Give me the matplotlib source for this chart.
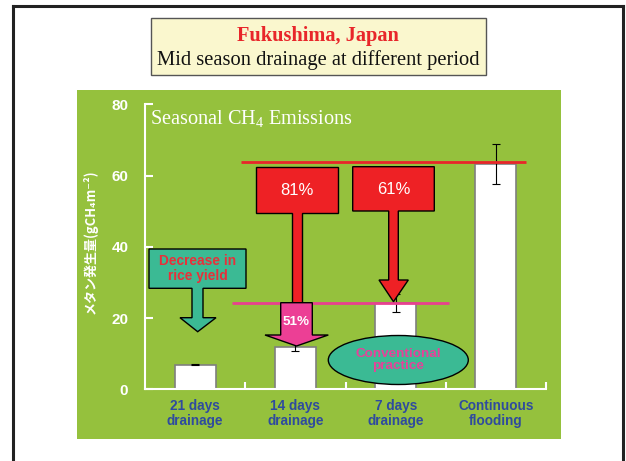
import matplotlib
matplotlib.use("Agg")
import matplotlib.pyplot as plt
from matplotlib.patches import Rectangle, Polygon, Ellipse
from matplotlib.lines import Line2D
from matplotlib.transforms import Affine2D

# ---- data ----
categories = ["21 days\ndrainage", "14 days\ndrainage", "7 days\ndrainage", "Continuous\nflooding"]
emissions = [6.9, 12.0, 24.2, 63.2]
errors = [0.2, 1.3, 2.6, 5.6]
flooding_level = 63.8
conventional_level = 24.3
yticks = [0, 20, 40, 60, 80]
reduction_labels = ["81%", "61%", "51%"]

plt.rcParams['mathtext.fontset'] = 'custom'
plt.rcParams['mathtext.rm'] = 'Liberation Serif'
plt.rcParams['mathtext.it'] = 'Liberation Serif:italic'

W, H = 626, 461
fig = plt.figure(figsize=(W / 100, H / 100), dpi=100, facecolor='white')
T = Affine2D().scale(1 / W, -1 / H).translate(0, 1) + fig.transFigure

GREEN = '#95C13D'
TEAL = '#3BBA94'
RED = '#EE2125'
PINK = '#EC3F95'
BLUE = '#2F4B9E'

# slide frame (left, top, right) and green panel
for xs, ys in [([13.3, 13.3], [460.5, 6]), ([13.3, 623.3], [6, 6]), ([623.3, 623.3], [6, 460.5])]:
    fig.add_artist(Line2D(xs, ys, transform=T, color='#222222', lw=2.2,
                          solid_capstyle='projecting', zorder=0))
fig.add_artist(Rectangle((77.3, 90), 483.7, 348.7, transform=T,
                         facecolor=GREEN, edgecolor='none', zorder=-1))

# title box
fig.add_artist(Rectangle((151, 18.3), 334.7, 56.7, transform=T,
                         facecolor='#FAF7CE', edgecolor='#555555', lw=1.0, zorder=1))
fig.text(318.4, 35.5, "Fukushima, Japan", transform=T, ha='center', va='center',
         family='Liberation Serif', fontweight='bold', fontsize=14.7, color='#E8262A')
fig.text(318.4, 60, "Mid season drainage at different period", transform=T,
         ha='center', va='center', family='Liberation Serif', fontsize=14.8, color='#111111')

# axes
ax = fig.add_axes([145 / W, (H - 389.3) / H, 401 / W, 284.8 / H])
ax.set_facecolor('none')
x = list(range(len(categories)))
ax.bar(x, emissions, width=0.41, color='white', edgecolor='#7f7f7f', lw=1.2, zorder=2)
ax.errorbar(x, emissions, yerr=errors, fmt='none', ecolor='black',
            elinewidth=0.8, capsize=3, capthick=0.8, zorder=3)
ax.set_xlim(-0.5, 3.5)
ax.set_ylim(0, 80)
for s in ['top', 'right']:
    ax.spines[s].set_visible(False)
for s in ['left', 'bottom']:
    ax.spines[s].set_color('white')
    ax.spines[s].set_linewidth(1.5)
ax.set_yticks(yticks)
ax.set_yticklabels([str(v) for v in yticks], color='white', fontweight='bold',
                   family='Liberation Sans', fontsize=11)
ax.tick_params(axis='y', direction='in', length=5.5, width=1.5, color='white', pad=12)
ax.set_xticks([i + 0.5 for i in x])
ax.set_xticklabels([])
ax.tick_params(axis='x', which='major', direction='in', length=5, width=1.5, color='white')
ax.set_xticks(x, labels=categories, minor=True)
ax.tick_params(axis='x', which='minor', length=0, pad=7)
for lab in ax.get_xticklabels(minor=True):
    lab.set_color(BLUE)
    lab.set_fontweight('bold')
    lab.set_family('Liberation Sans')
    lab.set_fontsize(9.8)
    lab.set_linespacing(1.05)

# reference levels
ax.hlines(flooding_level, 0.459, 3.30, color='#E8262A', lw=2, zorder=4)
ax.hlines(conventional_level, 0.366, 2.534, color='#E8418F', lw=2, zorder=4)

ax.text(150, 118, r"Seasonal CH$_4$ Emissions", transform=T, ha='left', va='center',
        family='Liberation Serif', fontsize=14.6, color='white')

fig.text(90, 242, "メタン発生量(gCH₄m⁻²)", transform=T, rotation=90, ha='center',
         va='center', color='white', fontweight='bold', fontsize=9.4,
         family=['Noto Sans CJK JP', 'DejaVu Sans'])

def poly(pts, fc, z=5):
    ax.add_patch(Polygon(pts, closed=True, transform=T, clip_on=False,
                         facecolor=fc, edgecolor='black', lw=1, zorder=z))

# green callout
poly([(149, 249), (246, 249), (246, 288.3), (203, 288.3), (203, 317.7), (216, 317.7),
      (197.7, 331.7), (180, 317.7), (192, 317.7), (192, 288.3), (149, 288.3)], TEAL)
ax.text(197.5, 268.7, "Decrease in\nrice yield", transform=T, ha='center', va='center',
        color='#E8303A', fontweight='bold', family='Liberation Sans', fontsize=9.9,
        linespacing=1.1, zorder=6)

# red 81% callout
poly([(256, 167.3), (337.7, 167.3), (337.7, 213.3), (301.7, 213.3), (301.7, 302.7),
      (292.3, 302.7), (292.3, 213.3), (256, 213.3)], RED)
ax.text(297, 190, reduction_labels[0], transform=T, ha='center', va='center',
        color='white', family='Liberation Sans', fontsize=12, zorder=6)

# pink 51% arrow
poly([(280.7, 302.7), (312.3, 302.7), (312.3, 335), (328.3, 335), (296.5, 346),
      (265, 335), (280.7, 335)], PINK)
ax.text(296.5, 322, reduction_labels[2], transform=T, ha='center', va='center',
        color='white', fontweight='bold', family='Liberation Sans', fontsize=9.6, zorder=6)

# red 61% callout
poly([(352.7, 166.7), (434.3, 166.7), (434.3, 211), (398.3, 211), (398.3, 280),
      (408.3, 280), (393.5, 301.7), (379, 280), (388.7, 280), (388.7, 211), (352.7, 211)], RED)
ax.text(393.5, 189, reduction_labels[1], transform=T, ha='center', va='center',
        color='white', family='Liberation Sans', fontsize=12, zorder=6)

# conventional ellipse
ax.add_patch(Ellipse((398.3, 360), 140, 49, transform=T, clip_on=False,
                     facecolor=TEAL, edgecolor='black', lw=1, zorder=5))
ax.text(398.3, 360, "Conventional\npractice", transform=T, ha='center', va='center',
        color='#E8409A', fontweight='bold', family='Liberation Sans', fontsize=9.7,
        linespacing=1.1, zorder=6)

fig.savefig("out.png", dpi=100, facecolor='white')
